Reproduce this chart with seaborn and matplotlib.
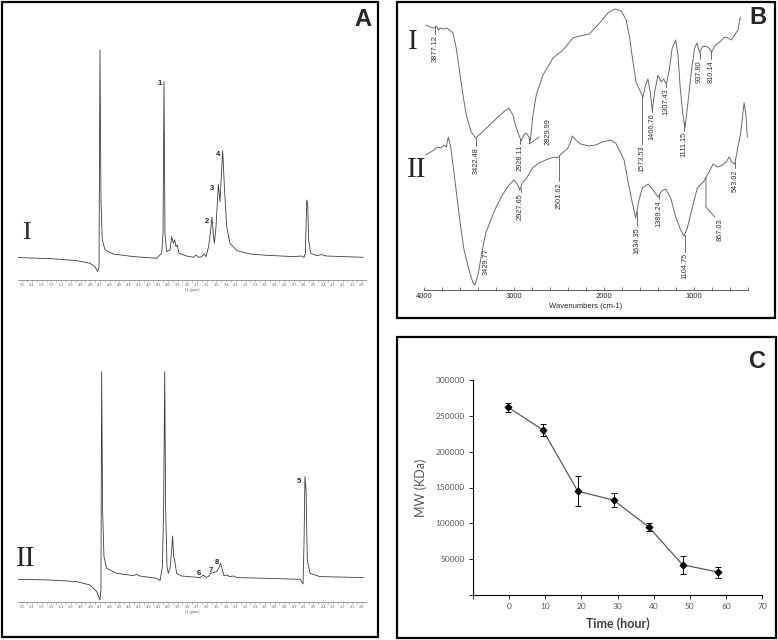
import numpy as np
import pandas as pd
import matplotlib
matplotlib.use("Agg")
import matplotlib.pyplot as plt
import seaborn as sns
from matplotlib.patches import Rectangle
from matplotlib.ticker import MultipleLocator, FixedLocator, FuncFormatter

# ---- panel A: 1H NMR spectra (ppm, intensity above baseline) ----
nmr1_ppm = [5.542, 5.215, 4.941, 4.803, 4.752, 4.724, 4.710, 4.700, 4.690, 4.676,
            4.648, 4.563, 4.356, 4.253, 4.116, 4.064, 4.050, 4.040, 4.030, 4.013,
            3.978, 3.961, 3.944, 3.930, 3.916, 3.903, 3.886, 3.807, 3.738, 3.710,
            3.683, 3.652, 3.628, 3.607, 3.580, 3.559, 3.545, 3.532, 3.521, 3.504,
            3.480, 3.463, 3.435, 3.418, 3.394, 3.360, 3.291, 3.154, 2.982, 2.707,
            2.621, 2.597, 2.583, 2.569, 2.559, 2.549, 2.528, 2.466, 2.415, 2.363, 1.985]
nmr1_int = [-0.3, -1.3, -3.3, -6, -9.3, -14.3, -9.3, 207.3, 57.3, 17.3,
            7.3, 3.3, 0.7, 0, -1, 4, 24, 175.7, 24, 5.7,
            7.3, 20.7, 14, 17.3, 10.7, 12.3, 4, 1.3, 0, 2.3,
            0, 0.7, 3.3, 0.7, 10.7, 27.3, 40, 24, 14, 30.7,
            73, 55.7, 106.7, 70.7, 30.7, 14, 6.7, 3.3, 2, 0.7,
            1.3, 0, 4, 57.3, 54, 17.3, 4, 1.7, 2.7, 1.3, 0]

nmr2_ppm = [5.559, 5.215, 4.941, 4.803, 4.734, 4.700, 4.690, 4.683, 4.673, 4.659,
            4.631, 4.528, 4.356, 4.322, 4.288, 4.116, 4.081, 4.057, 4.044, 4.033,
            4.023, 4.009, 3.996, 3.978, 3.961, 3.951, 3.941, 3.930, 3.910, 3.858,
            3.669, 3.635, 3.607, 3.583, 3.559, 3.532, 3.497, 3.477, 3.456, 3.439,
            3.422, 3.394, 3.360, 3.325, 3.291, 2.982, 2.638, 2.621, 2.607, 2.597,
            2.587, 2.576, 2.563, 2.535, 2.432, 1.985]
nmr2_int = [-1, -1.7, -3.3, -6.7, -13.3, -21.7, -11.7, 206.7, 68.3, 21.7,
            10, 5, 2.7, 4, 2.3, 0, -2.3, 11.7, 68.3, 206.7,
            68.3, 11.7, 5, 10, 28.3, 42.3, 21.7, 18.3, 5, 2.3,
            0.7, 3.3, 1, 1.7, 5, 5.7, 6.7, 10, 15, 8.3,
            2.7, 3.3, 1.7, 2.3, 0.7, 0, -1, -3.3, -5.7, 35,
            101.7, 88.3, 18.3, 5, 1.7, 0.7]

nmr1_tags = ["1", "2", "3", "4"]
nmr1_tag_ppm = [4.08, 3.597, 3.545, 3.484]
nmr1_tag_int = [174, 36, 69, 103]
nmr2_tags = ["5", "6", "7", "8"]
nmr2_tag_ppm = [2.648, 3.679, 3.556, 3.494]
nmr2_tag_int = [97, 5, 8, 16]

# ---- panel B: FTIR spectra (wavenumber, transmittance a.u.) ----
ftir1_wn = [3975, 3937, 3882, 3864, 3837, 3819, 3782, 3753, 3715, 3678,
            3642, 3604, 3567, 3530, 3475, 3426, 3364, 3270, 3178, 3104,
            3056, 3012, 2975, 2937, 2919, 2893, 2864, 2834, 2819, 2789,
            2753, 2678, 2567, 2456, 2345, 2270, 2159, 2123, 2048, 1956,
            1882, 1808, 1753, 1715, 1678, 1642, 1604, 1567, 1537, 1512,
            1486, 1464, 1437, 1400, 1364, 1337, 1308, 1278, 1242, 1204,
            1178, 1153, 1123, 1100, 1070, 1030, 993, 967, 937, 908,
            870, 834, 804, 770, 715, 659, 623, 586, 548, 512, 486]
ftir1_t = [265, 263, 262, 264, 260, 262, 261, 262, 260, 257,
           242, 218, 195, 175, 158, 152, 157, 165, 173, 179,
           182, 175, 162, 153, 149, 155, 157, 153, 149, 175,
           195, 215, 232, 240, 252, 254, 256, 260, 267, 277,
           281, 279, 270, 252, 228, 207, 200, 193, 205, 211,
           198, 180, 198, 215, 208, 211, 206, 218, 242, 250,
           235, 202, 175, 162, 185, 218, 242, 247, 237, 243,
           244, 242, 238, 244, 248, 253, 252, 250, 255, 260, 273]

ftir2_wn = [3981, 3925, 3888, 3852, 3814, 3777, 3752, 3730, 3703, 3666,
            3630, 3592, 3555, 3500, 3455, 3433, 3396, 3352, 3314, 3258,
            3203, 3130, 3055, 3000, 2952, 2936, 2907, 2852, 2796, 2722,
            2647, 2555, 2519, 2463, 2407, 2370, 2352, 2314, 2259, 2166,
            2092, 2019, 1925, 1870, 1814, 1777, 1730, 1685, 1648, 1611,
            1574, 1508, 1455, 1400, 1359, 1314, 1259, 1203, 1148, 1111,
            1074, 1018, 963, 888, 833, 788, 741, 685, 641, 611,
            581, 547, 518, 481, 444, 425, 407]
ftir2_t = [135, 138, 140, 143, 142, 145, 143, 153, 143, 117,
           90, 63, 40, 20, 7, 5, 17, 40, 57, 70,
           82, 95, 105, 110, 104, 100, 107, 113, 122, 127,
           130, 133, 132, 137, 141, 148, 154, 150, 146, 144,
           145, 148, 150, 147, 137, 130, 107, 87, 72, 90,
           102, 106, 100, 93, 99, 101, 92, 73, 60, 54,
           62, 83, 102, 109, 118, 126, 123, 125, 128, 133,
           128, 126, 140, 157, 187, 177, 153]

ftir1_peaks = ["3877.12", "3422.48", "2928.11", "2829.99", "1573.53",
               "1466.76", "1307.43", "1111.15", "937.80", "810.14"]
ftir2_peaks = ["3429.77", "2927.65", "2501.62", "1634.35", "1389.24",
               "1104.75", "867.03", "543.02"]

# ---- panel C: molecular weight vs time ----
time_h = [-0.3, 9.3, 19.0, 28.9, 38.6, 48.0, 57.8]
mw = [262000, 230400, 144900, 132300, 95200, 42200, 32000]
mw_err = [6300, 7900, 21400, 9500, 5600, 12800, 7700]

W, H = 778, 640
sns.set_style("white")
plt.rcParams["font.family"] = ["Liberation Sans", "DejaVu Sans"]
fig = plt.figure(figsize=(W / 100, H / 100), dpi=100)


def box(x0, y0, x1, y1):
    return [x0 / W, 1 - y1 / H, (x1 - x0) / W, (y1 - y0) / H]


def frame(x0, y0, x1, y1):
    fig.add_artist(Rectangle((x0 / W, 1 - y1 / H), (x1 - x0) / W, (y1 - y0) / H,
                             transform=fig.transFigure, fill=False, lw=1.6, ec="black"))


frame(2, 2, 378, 637)
frame(397, 2, 775, 318)
frame(397, 337, 776, 638)

# ---- A ----
nmr_sets = [(nmr1_ppm, nmr1_int, nmr1_tags, nmr1_tag_ppm, nmr1_tag_int, (18, 40, 366, 280), -22.7),
            (nmr2_ppm, nmr2_int, nmr2_tags, nmr2_tag_ppm, nmr2_tag_int, (18, 362, 366, 602), -23.7)]
for ppm, inten, tags, tp, ti, pos, lo in nmr_sets:
    ax = fig.add_axes(box(*pos))
    sns.lineplot(x=ppm, y=inten, ax=ax, sort=False, estimator=None, color="#3c3c3c", lw=0.6)
    ax.set_xlim(5.545, 1.958)
    ax.set_ylim(lo, lo + 240)
    for s in ["top", "right", "left"]:
        ax.spines[s].set_visible(False)
    ax.spines["bottom"].set_color("#8a8a8a")
    ax.spines["bottom"].set_linewidth(0.6)
    ax.xaxis.set_major_locator(FixedLocator(np.round(np.arange(2.0, 5.55, 0.1), 1)))
    ax.xaxis.set_major_formatter(FuncFormatter(lambda v, p: f"{v:.1f}"))
    ax.xaxis.set_minor_locator(MultipleLocator(0.05))
    ax.tick_params(axis="x", which="both", bottom=True, length=1.2, width=0.4,
                   color="#8a8a8a", labelsize=2.8, labelcolor="#666666", pad=1)
    ax.set_yticks([])
    ax.set_ylabel("")
    ax.set_xlabel("f1 (ppm)", fontsize=2.8, color="#666666", labelpad=0.5)
    for t, x, y in zip(tags, tp, ti):
        ax.text(x, y, t, fontsize=5.5, fontweight="bold", ha="center", va="center", color="#222222")

fig.text(26 / W, 1 - 233 / H, "I", family=["Liberation Serif"], fontsize=19, ha="center", va="center")
fig.text(26 / W, 1 - 559 / H, "II", family=["Liberation Serif"], fontsize=21, ha="center", va="center")

# ---- B ----
axB = fig.add_axes(box(424, 5, 748, 290))
sns.lineplot(x=ftir1_wn, y=ftir1_t, ax=axB, sort=False, estimator=None, color="#6a6a6a", lw=0.7)
sns.lineplot(x=ftir2_wn, y=ftir2_t, ax=axB, sort=False, estimator=None, color="#6a6a6a", lw=0.7)
axB.set_xlim(4000, 400)
axB.set_ylim(0, 285)
for s in ["top", "right", "left"]:
    axB.spines[s].set_visible(False)
axB.spines["bottom"].set_color("#444444")
axB.spines["bottom"].set_linewidth(0.6)
axB.set_xticks([4000, 3000, 2000, 1000])
axB.xaxis.set_minor_locator(MultipleLocator(200))
axB.tick_params(axis="x", which="both", bottom=True, direction="in", length=2.5, width=0.5,
                color="#444444", labelsize=5.5, pad=2)
axB.set_yticks([])
axB.set_ylabel("")
axB.set_xlabel("Wavenumbers (cm-1)", fontsize=5.5, labelpad=2)

# label layout: text top, optional text x and bent leader
tops1 = {"3877.12": 255, "3422.48": 143, "2928.11": 145, "2829.99": 172, "1573.53": 145,
         "1466.76": 177, "1307.43": 202, "1111.15": 158, "937.80": 230, "810.14": 230}
tops2 = {"3429.77": 42, "2927.65": 97, "2501.62": 108, "1634.35": 63, "1389.24": 90,
         "1104.75": 37, "867.03": 72, "543.02": 121}
text_x = {"2829.99": 2622, "3429.77": 3311, "867.03": 711}
bends = {"2829.99": [(2830, 146), (2722, 153)], "867.03": [(867, 83), (767, 73)], "3429.77": None}


def tag(wx, wy, lab, top):
    pk = float(lab)
    cy = np.interp(pk, wx[::-1], wy[::-1])
    tx = text_x.get(lab, pk)
    if lab in bends:
        if bends[lab] is not None:
            pts = [(pk, cy)] + bends[lab]
            axB.plot([p[0] for p in pts], [p[1] for p in pts], color="#555555", lw=0.6)
    else:
        axB.plot([pk, pk], [cy, top + 1], color="#555555", lw=0.6)
    axB.text(tx, top, lab, rotation=90, ha="center", va="top", fontsize=5.3, color="#333333")


for lab in ftir1_peaks:
    tag(ftir1_wn, ftir1_t, lab, tops1[lab])
for lab in ftir2_peaks:
    tag(ftir2_wn, ftir2_t, lab, tops2[lab])

fig.text(413 / W, 1 - 42 / H, "I", family=["Liberation Serif"], fontsize=21, ha="center", va="center")
fig.text(417 / W, 1 - 170 / H, "II", family=["Liberation Serif"], fontsize=21, ha="center", va="center")

# ---- C ----
axC = fig.add_axes(box(473, 380, 762, 595))
sns.lineplot(x=time_h, y=mw, ax=axC, sort=False, estimator=None, color="#5a5a5a", lw=0.9,
             marker="D", markersize=3.5, markerfacecolor="black", markeredgecolor="black")
axC.errorbar(time_h, mw, yerr=mw_err, fmt="none", ecolor="black", elinewidth=0.7,
             capsize=2.2, capthick=0.7)
axC.set_xlim(-10, 70)
axC.set_ylim(0, 300000)
axC.set_xticks(range(-10, 71, 10))
axC.xaxis.set_major_formatter(FuncFormatter(lambda v, p: "" if v < 0 else f"{v:.0f}"))
axC.set_yticks(range(0, 300001, 50000))
axC.yaxis.set_major_formatter(FuncFormatter(lambda v, p: "" if v == 0 else f"{v:.0f}"))
for s in ["top", "right"]:
    axC.spines[s].set_visible(False)
for s in ["left", "bottom"]:
    axC.spines[s].set_color("black")
    axC.spines[s].set_linewidth(0.8)
axC.tick_params(axis="both", which="major", direction="out", length=3, width=0.7,
                left=True, bottom=True, labelsize=6, labelcolor="#595959", pad=3)
for lbl in axC.get_xticklabels() + axC.get_yticklabels():
    lbl.set_family(["Lato", "DejaVu Sans"])
axC.set_xlabel("Time (hour)", fontsize=9, fontweight="bold", color="#404040",
               family=["Lato", "DejaVu Sans"], labelpad=5)
axC.set_ylabel("MW (KDa)", fontsize=9, color="#595959", family=["Lato", "DejaVu Sans"], labelpad=6)

# panel letters
for x, y, t in [(363, 20, "A"), (758, 18, "B"), (758, 362, "C")]:
    fig.text(x / W, 1 - y / H, t, fontsize=17, fontweight="bold", ha="center", va="center")

fig.savefig("out.png", dpi=100)
